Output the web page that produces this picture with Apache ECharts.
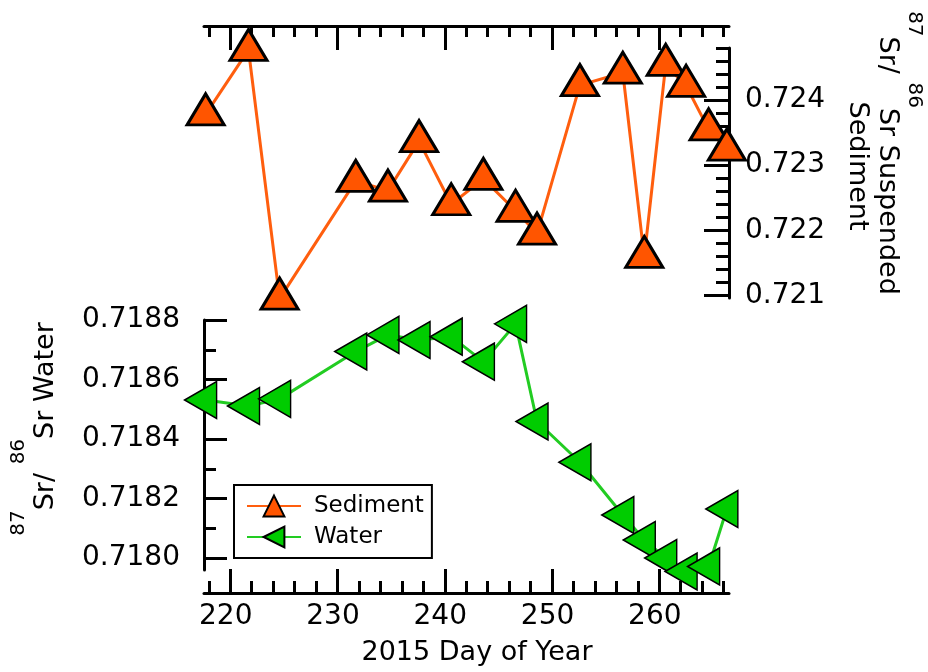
<!DOCTYPE html>
<html>
<head>
<meta charset="utf-8">
<script src="https://cdn.jsdelivr.net/npm/echarts@6/dist/echarts.min.js"></script>
<style>
html,body{margin:0;padding:0;background:#fff;}
#chart{width:928px;height:672px;}
</style>
</head>
<body>
<div id="chart"></div>
<script>
// ---- data ----
const days = [217.7, 221.7, 224.6, 231.7, 234.7, 237.6, 240.6, 243.6, 246.6, 248.6, 252.6, 256.6, 258.6, 260.6, 262.5, 264.6, 266.3];
const sediment = [0.72378, 0.72477, 0.72095, 0.72276, 0.72261, 0.72337, 0.72240, 0.72279, 0.72230, 0.72195, 0.72423, 0.72442, 0.72159, 0.72454, 0.72422, 0.72355, 0.72324];
const water = [0.718531, 0.718511, 0.718535, 0.718694, 0.718750, 0.718733, 0.718744, 0.718660, 0.718787, 0.718459, 0.718322, 0.718145, 0.718061, 0.718000, 0.717955, 0.717972, 0.718165];

const xMajorTicks = [220, 230, 240, 250, 260];
const xMinorTicks = [218, 222, 224, 226, 228, 232, 234, 236, 238, 242, 244, 246, 248, 252, 254, 256, 258, 262, 264, 266];
const sedMajorTicks = [0.721, 0.722, 0.723, 0.724];
const sedMinorTicks = [0.7212, 0.7214, 0.7216, 0.7218, 0.7222, 0.7224, 0.7226, 0.7228, 0.7232, 0.7234, 0.7236, 0.7238, 0.7242, 0.7244, 0.7246, 0.7248];
const watMajorTicks = [0.7180, 0.7182, 0.7184, 0.7186, 0.7188];
const watMinorTicks = [0.7181, 0.7183, 0.7185, 0.7187];

const FONT = '"DejaVu Sans", "Liberation Sans", sans-serif';
const X_MIN = 217.55, X_MAX = 266.5;
const SED_MIN = 0.72096, SED_MAX = 0.7248;
const WAT_MIN = 0.71796, WAT_MAX = 0.7188;

const chart = echarts.init(document.getElementById('chart'), null, {renderer: 'canvas'});

const lineBlack = {color: '#000', width: 3};

function xAxisDef(grid, pos, offset, ticks, len, showLine, labels) {
  return {
    type: 'value', gridIndex: grid, position: pos, offset: offset,
    min: X_MIN, max: X_MAX,
    axisLine: {show: showLine, onZero: false, lineStyle: lineBlack},
    axisTick: {show: true, inside: true, length: len, customValues: ticks, lineStyle: lineBlack},
    axisLabel: labels ? {show: true, customValues: ticks, color: '#000', fontFamily: FONT, fontSize: 28, margin: 10, padding: [0, 9, 0, 0]} : {show: false},
    splitLine: {show: false}
  };
}
function yAxisDef(grid, pos, min, max, ticks, len, showLine, labels, digits, margin) {
  return {
    type: 'value', gridIndex: grid, position: pos,
    min: min, max: max,
    axisLine: {show: showLine, onZero: false, lineStyle: lineBlack},
    axisTick: {show: true, inside: true, length: len, customValues: ticks, lineStyle: lineBlack},
    axisLabel: labels ? {show: true, customValues: ticks, color: '#000', fontFamily: FONT, fontSize: 28, margin: margin,
      formatter: v => Number(v).toFixed(digits)} : {show: false},
    splitLine: {show: false}
  };
}

const supRich = {
  sup: {fontFamily: FONT, fontSize: 20, lineHeight: 21, verticalAlign: 'top', fill: '#000', color: '#000'},
  m: {fontFamily: FONT, fontSize: 27, lineHeight: 28, verticalAlign: 'bottom', fill: '#000', color: '#000'},
  sp: {fontFamily: FONT, fontSize: 27, lineHeight: 50, verticalAlign: 'middle'}
};

const option = {
  backgroundColor: '#fff',
  animation: false,
  grid: [
    {left: 204, width: 525, top: 48, height: 250, containLabel: false},
    {left: 204, width: 525, top: 320, height: 250, containLabel: false}
  ],
  xAxis: [
    xAxisDef(0, 'top', 22, xMajorTicks, 24, true, false),
    xAxisDef(0, 'top', 22, xMinorTicks, 11, false, false),
    xAxisDef(1, 'bottom', 23, xMajorTicks, 24, true, true),
    xAxisDef(1, 'bottom', 23, xMinorTicks, 12, false, false)
  ],
  yAxis: [
    yAxisDef(0, 'right', SED_MIN, SED_MAX, sedMajorTicks, 25, true, true, 3, 16),
    yAxisDef(0, 'right', SED_MIN, SED_MAX, sedMinorTicks, 13, false, false, 3, 16),
    yAxisDef(1, 'left', WAT_MIN, WAT_MAX, watMajorTicks, 23, true, true, 4, 24),
    yAxisDef(1, 'left', WAT_MIN, WAT_MAX, watMinorTicks, 12, false, false, 4, 24)
  ],
  legend: {
    orient: 'vertical', left: 234, top: 485,
    data: ['Sediment', 'Water'],
    itemWidth: 54, itemHeight: 26, itemGap: 5,
    padding: [8, 8, 8, 12],
    borderColor: '#000', borderWidth: 2, backgroundColor: '#fff',
    textStyle: {fontFamily: FONT, fontSize: 23, color: '#000', lineHeight: 26, padding: [0, 0, 0, 8]}
  },
  series: [
    {
      name: 'Sediment', type: 'line', xAxisIndex: 0, yAxisIndex: 0,
      data: days.map((d, i) => [d, sediment[i]]),
      symbol: 'path://M5,0 L10,10 L0,10 Z', symbolSize: [37, 31], symbolOffset: [0, -5],
      itemStyle: {color: '#FF5500', borderColor: '#000', borderWidth: 3},
      lineStyle: {color: '#FF5E0E', width: 3},
      clip: false, z: 3
    },
    {
      name: 'Water', type: 'line', xAxisIndex: 2, yAxisIndex: 2,
      data: days.map((d, i) => [d, water[i]]),
      symbol: 'path://M0,5 L10,0 L10,10 Z', symbolSize: [32, 37], symbolOffset: [-5, 0],
      itemStyle: {color: '#00CC00', borderColor: '#000', borderWidth: 1.5},
      lineStyle: {color: '#22CC22', width: 3},
      clip: false, z: 3
    }
  ],
  graphic: [
    {type: 'text', x: 477, y: 653,
      style: {text: '2015 Day of Year', font: '27px ' + FONT, fill: '#000', align: 'center', verticalAlign: 'middle', textAlign: 'center', textVerticalAlign: 'middle'}},
    {type: 'text', x: 34, y: 429, rotation: Math.PI / 2,
      style: {text: '{sup|87}{m|Sr/ }{sup|86}{m|Sr Water}{sp|\u200b}', rich: supRich, fill: '#000',
        align: 'center', verticalAlign: 'middle', textAlign: 'center', textVerticalAlign: 'middle'}},
    {type: 'text', x: 899, y: 153, rotation: -Math.PI / 2,
      style: {text: '{sup|87}{m|Sr/ }{sup|86}{m|Sr Suspended}{sp|\u200b}', rich: supRich, fill: '#000',
        align: 'center', verticalAlign: 'middle', textAlign: 'center', textVerticalAlign: 'middle'}},
    {type: 'text', x: 857, y: 166, rotation: -Math.PI / 2,
      style: {text: 'Sediment', font: '27px ' + FONT, fill: '#000', align: 'center', verticalAlign: 'middle', textAlign: 'center', textVerticalAlign: 'middle'}}
  ]
};
chart.setOption(option);
</script>
</body>
</html>
